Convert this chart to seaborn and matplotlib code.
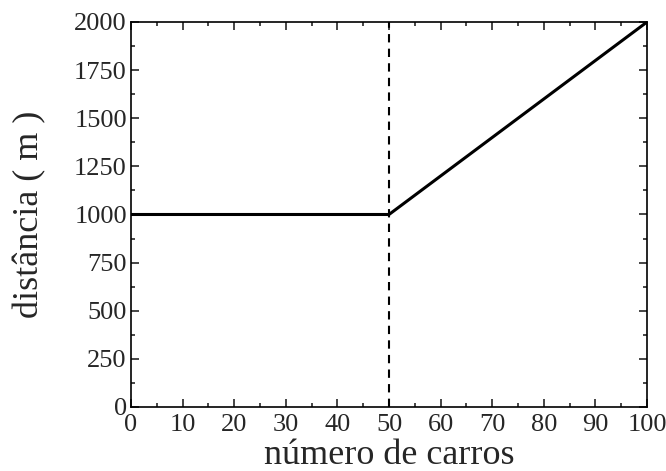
import matplotlib
matplotlib.use('Agg')
import matplotlib.pyplot as plt
import seaborn as sns
import pandas as pd
from matplotlib.ticker import MultipleLocator

carros = [0, 50, 100]
distancia = [1000, 1000, 2000]
corte = 50

df = pd.DataFrame({'carros': carros, 'distancia': distancia})

sns.set_style('ticks')
plt.rcParams['font.family'] = ['Liberation Serif', 'DejaVu Serif']

fig = plt.figure(figsize=(6.66, 4.71), dpi=100)
ax = fig.add_axes([0.1967, 0.1359, 0.7748, 0.8174])

sns.lineplot(data=df, x='carros', y='distancia', color='black', linewidth=2.2, ax=ax)
ax.axvline(corte, color='black', linestyle=(0, (4, 3)), linewidth=1.5)

ax.set_xlim(0, 100)
ax.set_ylim(0, 2000)
ax.xaxis.set_major_locator(MultipleLocator(10))
ax.xaxis.set_minor_locator(MultipleLocator(5))
ax.yaxis.set_major_locator(MultipleLocator(250))
ax.yaxis.set_minor_locator(MultipleLocator(125))
ax.tick_params(which='both', direction='in', top=True, right=True, width=1.2,
               labelsize=19)
ax.tick_params(axis='x', which='both', pad=5)
ax.tick_params(axis='y', which='both', pad=3)
ax.tick_params(which='major', length=6)
ax.tick_params(which='minor', length=3)
for s in ax.spines.values():
    s.set_linewidth(1.2)
    s.set_color('black')

ax.set_xlabel('número de carros', fontsize=26, labelpad=2)
ax.set_ylabel('distância ( m )', fontsize=26, labelpad=20)

fig.savefig('out.png', dpi=100)
